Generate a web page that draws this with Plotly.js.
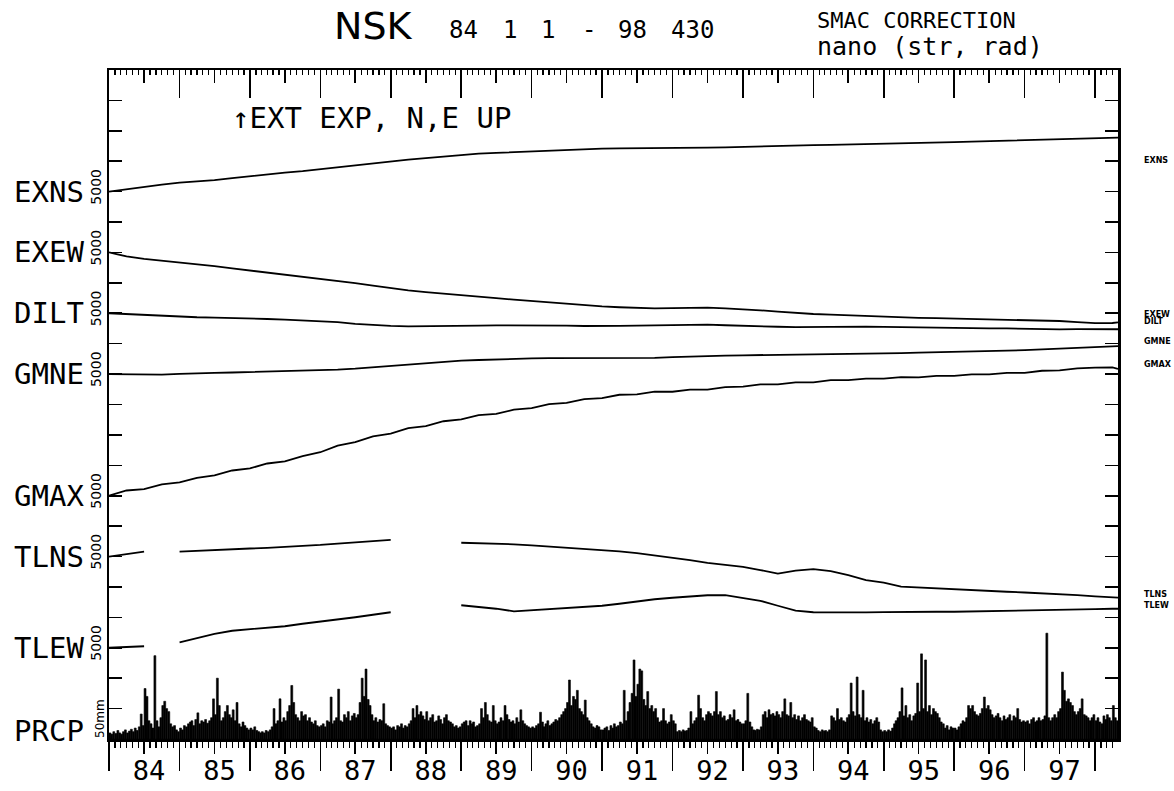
<!DOCTYPE html>
<html>
<head>
<meta charset="utf-8">
<script src="https://cdn.plot.ly/plotly-3.0.1.min.js"></script>
<style>
  html, body { margin: 0; padding: 0; background: #fff; }
  #chart { width: 1174px; height: 791px; }
</style>
</head>
<body>
<div id="chart"></div>
<script>
// NSK station records, 1984-01-01 to 1998-04-30.
// Strain in nanostrain, tilt in nanoradian (SMAC corrected), daily precipitation in mm.

const quarterDates = [
  '1984-01-01','1984-04-01','1984-07-01','1984-10-01',
  '1985-01-01','1985-04-01','1985-07-01','1985-10-01',
  '1986-01-01','1986-04-01','1986-07-01','1986-10-01',
  '1987-01-01','1987-04-01','1987-07-01','1987-10-01',
  '1988-01-01','1988-04-01','1988-07-01','1988-10-01',
  '1989-01-01','1989-04-01','1989-07-01','1989-10-01',
  '1990-01-01','1990-04-01','1990-07-01','1990-10-01',
  '1991-01-01','1991-04-01','1991-07-01','1991-10-01',
  '1992-01-01','1992-04-01','1992-07-01','1992-10-01',
  '1993-01-01','1993-04-01','1993-07-01','1993-10-01',
  '1994-01-01','1994-04-01','1994-07-01','1994-10-01',
  '1995-01-01','1995-04-01','1995-07-01','1995-10-01',
  '1996-01-01','1996-04-01','1996-07-01','1996-10-01',
  '1997-01-01','1997-04-01','1997-07-01','1997-10-01',
  '1998-01-01','1998-04-01','1998-04-30'
];

// Change since 1984-01-01 (extension / N,E up positive)
const exns = [0,410,820,1150,1480,1645,1890,2220,2550,2880,3125,3370,3700,4030,4360,4690,5020,5260,5510,5760,
  6000,6250,6370,6500,6610,6740,6860,6970,7070,7110,7160,7190,7240,7240,7240,7270,7350,7450,7570,7600,
  7650,7680,7730,7780,7850,7900,7980,8060,8140,8225,8310,8390,8470,8550,8640,8720,8780,8850,8880];
const exew = [0,-660,-1070,-1350,-1645,-1920,-2250,-2620,-2960,-3290,-3650,-4000,-4340,-4690,-5050,-5460,-5870,-6220,-6510,-6790,
  -7060,-7290,-7520,-7750,-7980,-8225,-8440,-8670,-8880,-9010,-9130,-9190,-9150,-9080,-9060,-9190,-9330,-9510,-9740,-9970,
  -10120,-10230,-10350,-10460,-10580,-10690,-10760,-10810,-10860,-10920,-10990,-11040,-11100,-11150,-11270,-11450,-11610,-11600,-11510];
const dilt = [0,-150,-280,-410,-530,-650,-710,-760,-820,-940,-1050,-1170,-1320,-1460,-1730,-1910,-2060,-2140,-2140,-2140,
  -2110,-2040,-1990,-1970,-1970,-1970,-2020,-2090,-2140,-2070,-2020,-1960,-1910,-1840,-1860,-1970,-2090,-2170,-2220,-2290,
  -2250,-2200,-2150,-2190,-2250,-2300,-2370,-2420,-2470,-2470,-2470,-2480,-2550,-2600,-2650,-2620,-2660,-2640,-2630];
const gmne = [0,-70,-150,-100,30,150,210,260,330,380,440,510,630,740,890,1120,1350,1580,1810,2040,
  2220,2320,2430,2520,2570,2630,2630,2630,2630,2630,2630,2660,2780,2900,2990,3040,3090,3125,3125,3125,
  3170,3220,3270,3340,3400,3450,3520,3570,3620,3680,3750,3820,3930,4050,4180,4310,4440,4560,4600];
const gmax = [0,860,1100,1850,2200,2950,3350,4150,4500,5300,5650,6500,7150,8250,8800,9750,10200,11100,11450,12250,
  12550,13250,13450,14150,14400,15050,15250,15900,16050,16600,16650,17100,17100,17450,17450,17850,17950,18300,18300,18650,
  18650,19000,19000,19250,19250,19500,19450,19700,19700,19950,19950,20200,20200,20550,20600,20950,21050,21100,20850];
const tlns = [0,410,820,null,820,970,1090,1200,1320,1430,1550,1680,1910,2140,2370,2570,2750,null,null,null,
  2270,2200,2150,2010,1840,1660,1480,1320,1150,860,580,230,-160,-580,-1050,-1380,-1690,-2220,-2800,-2300,
  -2060,-2390,-3060,-3870,-4280,-4940,-5100,-5260,-5430,-5560,-5690,-5790,-5910,-6020,-6140,-6350,-6550,-6700,-6740];
const tlew = [0,80,250,null,900,1645,2300,2800,3040,3210,3540,3950,4280,4610,5020,5430,5840,null,null,null,
  6990,6740,6420,6000,6170,6420,6580,6740,6910,7240,7650,7980,8225,8470,8640,8640,8140,7730,6910,6090,
  5840,5790,5760,5810,5870,5920,5920,5920,5920,5990,6050,6120,6170,6220,6270,6320,6370,6420,6420];

// Precipitation, largest daily total in each 10-day period (mm), three periods per month
const prcp84 = [10,8,12,9,14,10,8,12,15,10,13,16,12,18,14,20,41,22,83,70,30,25,18,137,30,20,35,55,62,50,45,25,20,22,15,12];
const prcp85 = [18,15,22,20,25,28,30,22,32,43,25,30,28,32,26,30,35,66,40,100,55,30,35,45,55,40,35,48,30,60,25,20,28,22,18,15];
const prcp86 = [18,15,20,14,12,10,12,10,14,12,15,20,50,25,30,66,28,35,30,45,55,88,60,40,35,30,45,38,40,30,35,28,25,30,22,20];
const prcp87 = [22,25,20,30,28,69,25,30,35,82,30,28,40,35,45,30,38,42,35,40,60,100,70,115,65,55,40,30,35,28,32,30,58,25,22,20];
const prcp88 = [18,20,15,22,20,25,18,22,20,25,30,50,35,55,40,45,38,32,45,30,35,40,28,30,38,32,25,35,40,30,28,25,20,22,18,20];
const prcp89 = [25,28,30,22,30,25,28,20,22,25,50,35,60,40,30,28,55,30,25,28,35,30,55,40,32,28,30,25,35,28,48,30,25,22,20,18];
const prcp90 = [20,18,22,25,44,28,20,25,30,22,25,28,32,30,35,40,45,50,60,97,55,70,65,80,50,45,40,64,35,30,25,20,18,22,20,15];
const prcp91 = [15,18,20,14,22,18,25,20,22,28,25,80,30,45,60,75,130,70,90,115,112,65,55,78,50,55,45,50,35,28,30,50,30,25,28,40];
const prcp92 = [30,25,12,14,12,15,13,14,18,45,25,30,35,72,50,35,30,40,45,42,38,45,78,40,45,35,38,30,32,40,35,48,30,32,28,25];
const prcp93 = [25,30,75,28,20,15,14,16,15,20,40,45,35,48,40,42,38,45,40,35,45,66,40,38,60,35,40,32,38,30,35,40,32,30,28,35];
const prcp94 = [20,18,14,12,15,13,14,12,15,38,35,30,50,32,35,30,28,35,40,92,45,38,102,40,35,80,30,35,28,32,25,30,35,28,15,12];
const prcp95 = [14,12,15,13,18,25,30,35,45,84,38,55,35,40,30,38,42,92,45,140,50,130,45,55,40,50,45,42,35,28,25,18,22,15,20,18];
const prcp96 = [18,15,20,25,30,28,35,55,50,55,45,40,38,42,50,69,50,55,48,40,35,38,42,35,30,38,32,35,40,30,38,35,50,32,28,30];
const prcp97 = [28,30,25,32,35,28,30,35,30,32,38,174,35,30,35,40,35,45,50,110,80,62,66,60,55,45,40,45,50,66,40,38,35,30,35,40];
const prcp98 = [30,35,28,25,38,32,40,35,30,55,35,30];
const prcpYears = [
  [1984, prcp84], [1985, prcp85], [1986, prcp86], [1987, prcp87], [1988, prcp88],
  [1989, prcp89], [1990, prcp90], [1991, prcp91], [1992, prcp92], [1993, prcp93],
  [1994, prcp94], [1995, prcp95], [1996, prcp96], [1997, prcp97], [1998, prcp98]
];

const yearStarts = ['1984-01-01','1985-01-01','1986-01-01','1987-01-01','1988-01-01','1989-01-01','1990-01-01',
  '1991-01-01','1992-01-01','1993-01-01','1994-01-01','1995-01-01','1996-01-01','1997-01-01','1998-01-01'];
const midYears = ['1984-07-01','1985-07-01','1986-07-01','1987-07-01','1988-07-01','1989-07-01','1990-07-01',
  '1991-07-01','1992-07-01','1993-07-01','1994-07-01','1995-07-01','1996-07-01','1997-07-01'];
const yearLabels = ['84','85','86','87','88','89','90','91','92','93','94','95','96','97'];

const seriesNames = ['EXNS','EXEW','DILT','GMNE','GMAX','TLNS','TLEW'];
const seriesValues = [exns, exew, dilt, gmne, gmax, tlns, tlew];

// ---- drawing setup ----
const RANGE = ['1984-01-01', '1998-04-30'];
const STEP = 5000;                       // one scale step on the stacked axis
const panelBase = {                      // where each record starts on the stacked axis
  EXNS: 18 * STEP, EXEW: 16 * STEP, DILT: 14 * STEP, GMNE: 12 * STEP,
  GMAX: 8 * STEP, TLNS: 6 * STEP, TLEW: 3 * STEP
};
const M = { l: 109, r: 56, t: 70, b: 52 };
const W = 1174, H = 791;
const px = x => (x - M.l) / (W - M.l - M.r);
const py = y => (H - M.b - y) / (H - M.t - M.b);

const ink = '#000';
const traces = [];

seriesNames.forEach((name, i) => {
  const base = panelBase[name];
  traces.push({
    type: 'scatter', mode: 'lines', name,
    x: quarterDates,
    y: seriesValues[i].map(v => v === null ? null : base + v),
    line: { color: ink, width: 1.8 },
    connectgaps: false, hoverinfo: 'skip', xaxis: 'x', yaxis: 'y'
  });
});

// 10-day periods -> bar centres
const DAY = 86400000;
const pX = [], pY = [];
prcpYears.forEach(([yr, vals]) => {
  vals.forEach((v, k) => {
    const m = Math.floor(k / 3), d = k % 3;
    pX.push(new Date(Date.UTC(yr, m, 1 + 10 * d) + 5 * DAY).toISOString().slice(0, 10));
    pY.push(v);
  });
});
traces.push({
  type: 'bar', name: 'PRCP', x: pX, y: pY, width: 10 * DAY,
  marker: { color: ink, line: { width: 0.6, color: ink } },
  hoverinfo: 'skip', xaxis: 'x', yaxis: 'y2'
});

// empty traces so the extra tick axes get drawn
['x2', 'x3', 'x4', 'x5'].forEach(ax => traces.push({
  type: 'scatter', mode: 'lines', x: [RANGE[0]], y: [null], xaxis: ax, yaxis: 'y', hoverinfo: 'skip'
}));

const dateAxis = extra => Object.assign({
  type: 'date', range: RANGE, showgrid: false, zeroline: false, fixedrange: true,
  tickcolor: ink, linecolor: ink
}, extra);

const monthMinor = (dir, len) => ({
  tickmode: 'linear', tick0: '1984-01-01', dtick: 'M1',
  ticks: dir, ticklen: len, tickwidth: 1.2, tickcolor: ink, showgrid: false
});

const mono = (size, extra) => Object.assign({ family: 'DejaVu Sans Mono', size, color: ink }, extra || {});

const annotations = [];
const addText = (text, x, y, opt) => annotations.push(Object.assign({
  text, x: px(x), y: py(y), xref: 'paper', yref: 'paper',
  showarrow: false, xanchor: 'center', yanchor: 'middle', font: mono(24)
}, opt || {}));

// header
addText('NSK', 373, 26, { font: { family: 'DejaVu Sans', size: 38, color: ink } });
addText('84', 463, 30);
addText('1', 510, 30);
addText('1', 548, 30);
addText('-', 589, 30);
addText('98', 632, 30);
addText('430', 692, 30);
addText('SMAC CORRECTION', 815, 20, { xanchor: 'left', font: mono(22) });
addText('nano (str, rad)', 815, 47, { xanchor: 'left', font: mono(25) });
addText('\u2191EXT EXP, N,E UP', 230, 118, { xanchor: 'left', font: mono(29) });

// record names and scale marks on the left
seriesNames.forEach(name => {
  annotations.push({
    text: name, x: px(86), y: panelBase[name], xref: 'paper', yref: 'y',
    showarrow: false, xanchor: 'right', yanchor: 'middle', font: mono(29)
  });
  annotations.push({
    text: '5000', x: px(96), y: panelBase[name], xref: 'paper', yref: 'y', yshift: 5,
    showarrow: false, xanchor: 'center', yanchor: 'middle', textangle: -90,
    font: { family: 'DejaVu Sans', size: 14, color: ink }
  });
});
addText('PRCP', 86, 731, { xanchor: 'right', font: mono(29) });
addText('50mm', 100, 719, { textangle: -90, font: { family: 'DejaVu Sans', size: 12, color: ink } });

// small end tags on the right
const tagY = { EXNS: 160, EXEW: 314, DILT: 321, GMNE: 341, GMAX: 364, TLNS: 594, TLEW: 605 };
seriesNames.forEach(name => addText(name, 1142, tagY[name], {
  xanchor: 'left', font: { family: 'DejaVu Sans', size: 8, color: ink, weight: 700 }
}));

const layout = {
  width: W, height: H, margin: M,
  paper_bgcolor: '#fff', plot_bgcolor: '#fff',
  showlegend: false, bargap: 0, barmode: 'overlay',
  // year boundaries and months below the plot
  xaxis: dateAxis({
    anchor: 'y', tickmode: 'array', tickvals: yearStarts,
    ticks: 'outside', ticklen: 29, tickwidth: 1.6, showticklabels: false,
    showline: true, linewidth: 2.5, minor: monthMinor('outside', 6)
  }),
  // year labels (their own ticks are invisible spacers)
  xaxis2: dateAxis({
    overlaying: 'x', anchor: 'y', side: 'bottom', tickmode: 'array',
    tickvals: midYears, ticktext: yearLabels,
    ticks: 'outside', ticklen: 8, tickcolor: 'rgba(0,0,0,0)', showline: false,
    tickfont: mono(27), ticklabelshift: 5, ticklabelstandoff: 0
  }),
  // mid-year marks below the plot
  xaxis5: dateAxis({
    overlaying: 'x', anchor: 'y', side: 'bottom', tickmode: 'array', tickvals: midYears,
    ticks: 'outside', ticklen: 14, tickwidth: 1.6, showticklabels: false, showline: false
  }),
  xaxis3: dateAxis({
    overlaying: 'x', anchor: 'y', side: 'top', tickmode: 'array', tickvals: yearStarts,
    ticks: 'inside', ticklen: 28, tickwidth: 1.6, showticklabels: false,
    showline: true, linewidth: 2.5, minor: monthMinor('inside', 5)
  }),
  xaxis4: dateAxis({
    overlaying: 'x', anchor: 'y', side: 'top', tickmode: 'array', tickvals: midYears,
    ticks: 'inside', ticklen: 13, tickwidth: 1.6, showticklabels: false, showline: false
  }),
  yaxis: {
    range: [0, 22 * STEP], tickmode: 'linear', tick0: 0, dtick: STEP,
    ticks: 'inside', ticklen: 13, tickwidth: 1.6, tickcolor: ink,
    showticklabels: false, showline: true, linewidth: 2.5, linecolor: ink,
    mirror: 'ticks', showgrid: false, zeroline: false, fixedrange: true
  },
  // precipitation: 50 mm per scale step
  yaxis2: { overlaying: 'y', range: [0, 22 * 50], visible: false, fixedrange: true },
  annotations
};

Plotly.newPlot('chart', traces, layout, { displayModeBar: false, staticPlot: true });
</script>
</body>
</html>
